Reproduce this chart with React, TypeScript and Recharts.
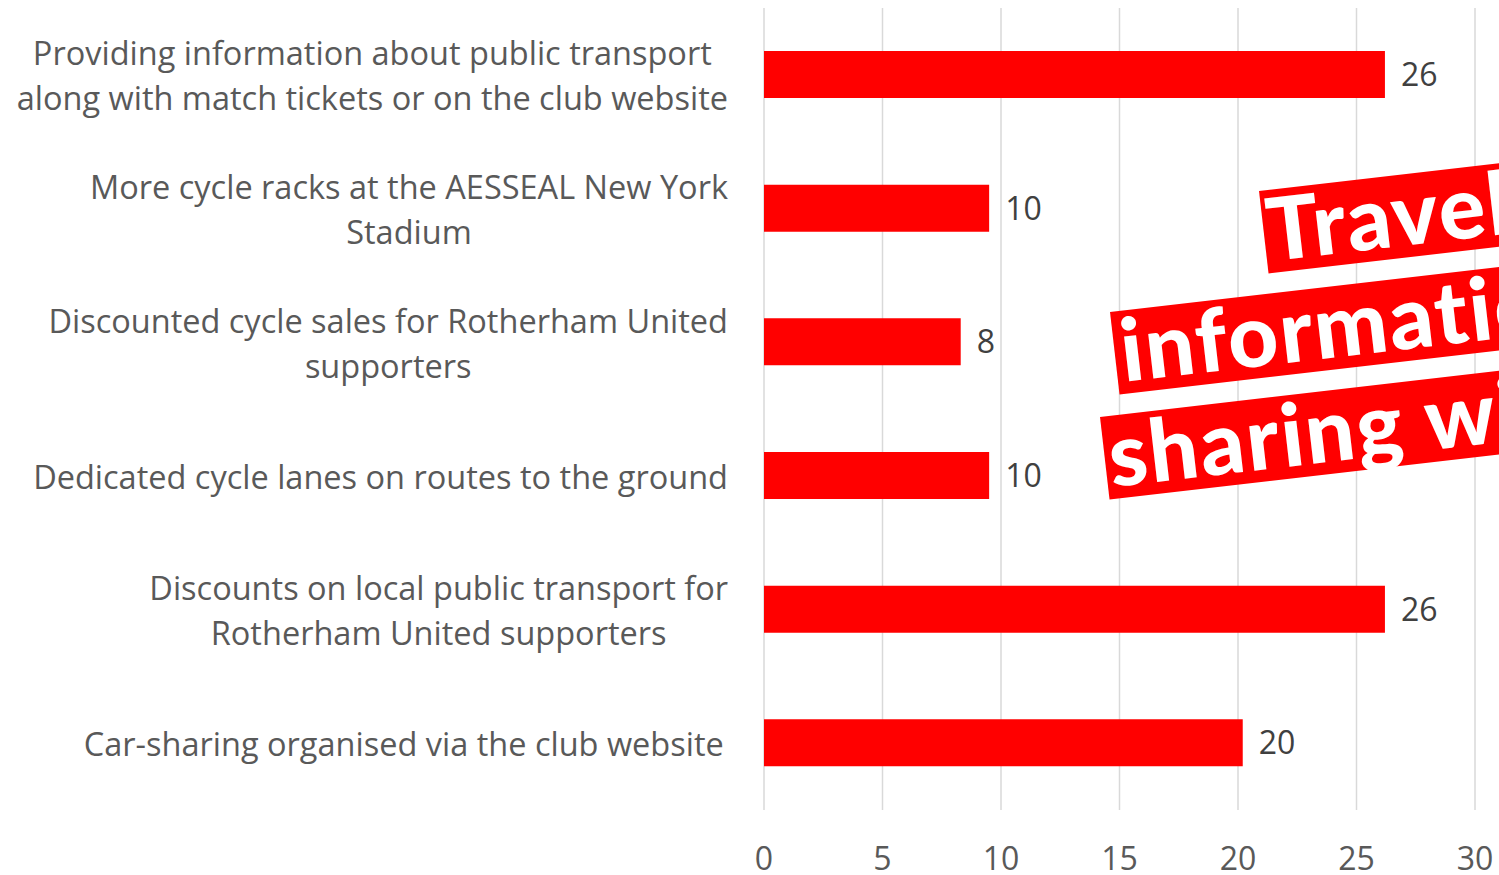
import React from "react";
import { BarChart, Bar, XAxis, YAxis, CartesianGrid, LabelList } from "recharts";

// ── Data ─────────────────────────────────────────────────────────────────────

const categories = [
  "Providing information about public transport\nalong with match tickets or on the club website",
  "More cycle racks at the AESSEAL New York\nStadium",
  "Discounted cycle sales for Rotherham United\nsupporters",
  "Dedicated cycle lanes on routes to the ground",
  "Discounts on local public transport for\nRotherham United supporters",
  "Car-sharing organised via the club website ",
];

const responses = [26.2, 9.5, 8.3, 9.5, 26.2, 20.2];

const xTicks = [0, 5, 10, 15, 20, 25, 30];

const bannerLines = ["Travel", "information", "sharing with"];

const data = categories.map((name, i) => ({ name, value: responses[i] }));

const FONT = "'Open Sans', Lato, sans-serif";
const BANNER_FONT = "Lato, 'Open Sans', sans-serif";
const TEXT = "#595959";
const RED = "#ff0000";

let ctx: CanvasRenderingContext2D | null = null;
function measure(s: string, size: number) {
  if (!ctx) ctx = document.createElement("canvas").getContext("2d");
  if (!ctx) return s.length * size * 0.5;
  ctx.font = `${size}px ${FONT}`;
  return ctx.measureText(s).width;
}

// ── Ticks ────────────────────────────────────────────────────────────────────

function CategoryTick({ x, y, payload }: any) {
  const lines = String(payload.value).split("\n");
  const size = 32.5;
  const lineH = 45;
  const widest = Math.max(...lines.map((l) => measure(l, size)));
  const right = x - 28;
  const cx = right - widest / 2;
  const startY = y - ((lines.length - 1) * lineH) / 2;
  return (
    <text
      x={cx}
      y={startY}
      textAnchor="middle"
      fill={TEXT}
      fontFamily={FONT}
      fontSize={size}
      dominantBaseline="central"
    >
      {lines.map((l, i) => (
        <tspan key={i} x={cx} y={startY + i * lineH} dominantBaseline="central">
          {l}
        </tspan>
      ))}
    </text>
  );
}

function ValueTick({ x, y, payload }: any) {
  return (
    <text
      x={x}
      y={y + 39}
      textAnchor="middle"
      fill={TEXT}
      fontFamily={FONT}
      fontSize={32}
      dominantBaseline="central"
    >
      {payload.value}
    </text>
  );
}

// ── Banner overlay ───────────────────────────────────────────────────────────

const bannerBoxes = [
  { left: 1259, top: 191, pad: 3 },
  { left: 1110, top: 312, pad: 6 },
  { left: 1100, top: 417, pad: 4 },
];

function Banner() {
  return (
    <>
      {bannerLines.map((t, i) => (
        <div
          key={t}
          style={{
            position: "absolute",
            left: bannerBoxes[i].left,
            top: bannerBoxes[i].top,
            width: 600,
            height: 83,
            background: RED,
            transform: "rotate(-6.6deg)",
            transformOrigin: "0 0",
            color: "#fff",
            fontFamily: BANNER_FONT,
            fontWeight: 900,
            fontSize: 87,
            letterSpacing: 2,
            lineHeight: "75px",
            paddingLeft: bannerBoxes[i].pad,
            whiteSpace: "nowrap",
            boxSizing: "border-box",
          }}
        >
          {t}
        </div>
      ))}
    </>
  );
}

// ── App ──────────────────────────────────────────────────────────────────────

export default function App() {
  return (
    <div
      style={{
        position: "absolute",
        left: 0,
        top: 0,
        width: 1499,
        height: 875,
        overflow: "hidden",
        background: "#fff",
      }}
    >
      <BarChart
        width={1499}
        height={875}
        data={data}
        layout="vertical"
        margin={{ top: 8, right: 24, left: 0, bottom: 0 }}
      >
        <CartesianGrid horizontal={false} stroke="#d9d9d9" strokeWidth={1.5} />
        <XAxis
          type="number"
          domain={[0, 30]}
          ticks={xTicks}
          axisLine={false}
          tickLine={false}
          height={65}
          tick={<ValueTick />}
          interval={0}
        />
        <YAxis
          type="category"
          dataKey="name"
          width={764}
          axisLine={false}
          tickLine={false}
          tick={<CategoryTick />}
          interval={0}
        />
        <Bar dataKey="value" fill={RED} barSize={47} isAnimationActive={false}>
          <LabelList
            dataKey="value"
            position="right"
            offset={16}
            formatter={(v: any) => Math.round(Number(v))}
            fill="#404040"
            fontSize={32}
            fontFamily={FONT}
          />
        </Bar>
      </BarChart>
      <Banner />
    </div>
  );
}
